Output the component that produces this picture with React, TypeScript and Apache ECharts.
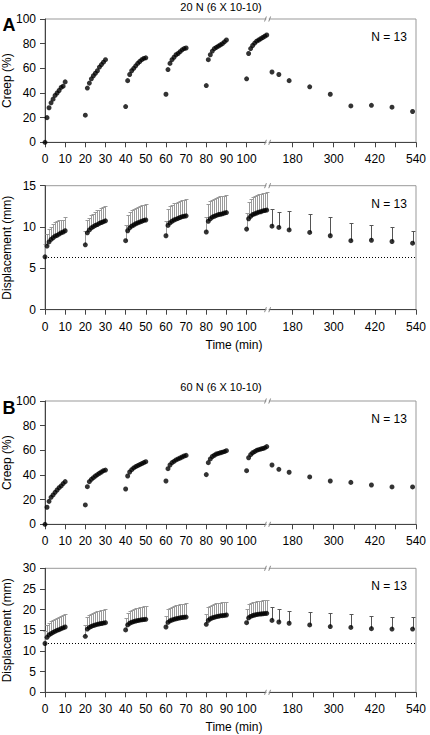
import React, { useEffect, useRef } from "react";
import * as echarts from "echarts";

// ---------- data ----------
// minutes at which creep / displacement were recorded during the six 10-min loading periods
const loadTimes = [
  0, 1, 2, 3, 4, 5, 6, 7, 8, 9, 10,
  20, 21, 22, 23, 24, 25, 26, 27, 28, 29, 30,
  40, 41, 42, 43, 44, 45, 46, 47, 48, 49, 50,
  60, 61, 62, 63, 64, 65, 66, 67, 68, 69, 70,
  80, 81, 82, 83, 84, 85, 86, 87, 88, 89, 90,
  100, 101, 102, 103, 104, 105, 106, 107, 108, 109, 110,
];
// recovery measurements after unloading
const recoveryTimes = [120, 140, 170, 230, 290, 350, 410, 470, 530];

// x-axis tick / label times
const xTickTimes = [0, 10, 20, 30, 40, 50, 60, 70, 80, 90, 100, 180, 240, 300, 360, 420, 480, 540];
const xLabelTimes = [0, 10, 20, 30, 40, 50, 60, 70, 80, 90, 100, 180, 300, 420, 540];

// Panel A: 20 N
const creepA = [
  0, 20, 28, 32, 35, 38, 40, 42, 44.5, 45.5, 49,
  22, 44, 48, 51.5, 54, 56, 58, 61, 63, 65, 67,
  29, 50, 55, 58, 60, 62, 64, 65.5, 67, 68, 68.5,
  39, 59, 64, 67, 69, 71, 72, 73.5, 75, 76, 76.5,
  46, 67, 71, 74, 76, 77, 78, 79, 80, 81.5, 83,
  51.5, 72, 76, 78.5, 80.5, 82, 83, 84, 85, 86, 87,
];
const creepARecovery = [57, 55, 50, 45, 39, 29.5, 30, 28.5, 25];

const dispA = [
  6.4, 7.7, 8.2, 8.5, 8.7, 8.9, 9.0, 9.15, 9.3, 9.4, 9.55,
  7.85, 9.3, 9.65, 9.9, 10.05, 10.2, 10.3, 10.45, 10.55, 10.65, 10.75,
  8.35, 9.55, 9.9, 10.1, 10.25, 10.4, 10.5, 10.6, 10.7, 10.8, 10.85,
  8.95, 10.2, 10.5, 10.7, 10.85, 10.95, 11.05, 11.15, 11.25, 11.3, 11.35,
  9.4, 10.7, 11.0, 11.2, 11.3, 11.4, 11.5, 11.55, 11.6, 11.7, 11.75,
  9.75, 11.0, 11.3, 11.5, 11.6, 11.7, 11.8, 11.85, 11.95, 12.0, 12.05,
];
const dispAUpper = [
  8.0, 9.2, 9.8, 10.0, 10.35, 10.55, 10.7, 10.85, 10.9, 10.9, 11.2,
  9.55, 10.85, 11.15, 11.4, 11.6, 11.8, 12.0, 12.1, 12.25, 12.4, 12.55,
  10.2, 11.45, 11.8, 12.05, 12.2, 12.35, 12.45, 12.55, 12.65, 12.7, 12.75,
  10.75, 12.2, 12.5, 12.7, 12.85, 12.95, 13.05, 13.15, 13.25, 13.3, 13.35,
  11.25, 12.8, 13.1, 13.3, 13.45, 13.55, 13.65, 13.7, 13.75, 13.8, 13.9,
  11.65, 13.05, 13.4, 13.6, 13.75, 13.85, 13.95, 14.05, 14.1, 14.15, 14.2,
];
const dispARecovery = [10.1, 9.95, 9.65, 9.35, 8.95, 8.35, 8.4, 8.25, 8.05];
const dispARecoveryUpper = [12.2, 11.8, 11.9, 11.55, 11.2, 10.5, 10.2, 9.95, 9.5];
const baselineA = 6.3;

// Panel B: 60 N
const creepB = [
  0, 13.8, 18.6, 21.9, 23.8, 25.9, 27.8, 29.7, 31.1, 33, 34.6,
  15.7, 30.5, 34.6, 36.5, 37.8, 39.2, 40.3, 41.4, 42.4, 43.5, 44,
  28.6, 39.2, 42.4, 44.3, 45.7, 46.8, 47.6, 48.4, 49.2, 50, 50.8,
  35.1, 45.1, 48.1, 50, 51.1, 52.2, 53, 53.8, 54.6, 55.4, 55.9,
  40.3, 50, 53, 55, 56, 57, 57.5, 58, 58.5, 59, 59.7,
  43.5, 54, 56.5, 58, 59, 60, 60.5, 61, 61.5, 62, 63,
];
const creepBRecovery = [48.1, 44.6, 42.2, 38.4, 35.1, 34, 31.9, 30.3, 30.3];

const dispB = [
  11.8, 13.3, 13.9, 14.2, 14.5, 14.75, 15.0, 15.15, 15.4, 15.6, 15.8,
  13.55, 15.3, 15.7, 15.95, 16.15, 16.3, 16.45, 16.55, 16.65, 16.75, 16.85,
  15.1, 16.3, 16.7, 16.95, 17.1, 17.25, 17.35, 17.45, 17.55, 17.6, 17.65,
  15.8, 16.9, 17.3, 17.5, 17.65, 17.8, 17.9, 18.0, 18.1, 18.15, 18.2,
  16.45, 17.4, 17.8, 18.0, 18.15, 18.3, 18.4, 18.5, 18.55, 18.6, 18.7,
  16.85, 18.0, 18.35, 18.55, 18.7, 18.8, 18.9, 18.95, 19.0, 19.05, 19.1,
];
const dispBUpper = [
  14.8, 16.2, 16.8, 17.2, 17.5, 17.8, 18.0, 18.3, 18.5, 18.7, 19.0,
  16.3, 18.3, 18.7, 19.0, 19.2, 19.4, 19.55, 19.7, 19.85, 19.95, 20.1,
  17.9, 19.3, 19.7, 20.0, 20.2, 20.35, 20.5, 20.6, 20.7, 20.8, 20.9,
  18.5, 20.2, 20.5, 20.75, 20.9, 21.05, 21.15, 21.25, 21.35, 21.45, 21.5,
  19.0, 20.6, 21.0, 21.2, 21.35, 21.5, 21.6, 21.7, 21.8, 21.85, 21.9,
  20.1, 21.3, 21.6, 21.8, 21.95, 22.05, 22.1, 22.2, 22.25, 22.3, 22.3,
];
const dispBRecovery = [17.4, 17.0, 16.7, 16.3, 15.9, 15.7, 15.4, 15.3, 15.3];
const dispBRecoveryUpper = [20.6, 20.1, 19.7, 19.35, 19.1, 18.9, 18.5, 18.3, 18.1];
const baselineB = 11.8;

const titles = ["20 N (6 X 10-10)", "60 N (6 X 10-10)"];
const panelLetters = ["A", "B"];
const nLabel = "N = 13";

// ---------- broken time axis ----------
const BREAK_TIME = 110;
const POST_REF_TIME = 180;
const POST_REF_POS = 122.8;
const POST_COMPRESS = 5.88;
const BREAK_POS = 110.4;

const toAxis = (t: number) => (t <= BREAK_TIME ? t : POST_REF_POS + (t - POST_REF_TIME) / POST_COMPRESS);
const fromAxis = (v: number) =>
  v <= BREAK_TIME + 0.5 ? Math.round(v) : Math.round(POST_REF_TIME + (v - POST_REF_POS) * POST_COMPRESS);
const X_MAX = toAxis(540);

const FONT = "'Liberation Sans', Arial, Helvetica, sans-serif";
const AXIS_COLOR = "#444";
const BORDER_COLOR = "#999";

const GRID_LEFT = 45;
const GRID_WIDTH = 371;
const grids = [
  { top: 19, height: 123.3 },
  { top: 185.7, height: 124 },
  { top: 401, height: 123.3 },
  { top: 568.3, height: 124 },
];

const pairs = (times: number[], vals: number[]) => times.map((t, i) => [toAxis(t), vals[i]]);
const triples = (times: number[], vals: number[], ups: number[]) =>
  times.map((t, i) => [toAxis(t), vals[i], ups[i]]);

function buildOption() {
  const panels = [
    { yMax: 100, yInt: 20, yName: "Creep (%)", load: creepA, rec: creepARecovery },
    { yMax: 15, yInt: 5, yName: "Displacement (mm)", load: dispA, rec: dispARecovery, up: dispAUpper, recUp: dispARecoveryUpper, base: baselineA },
    { yMax: 100, yInt: 20, yName: "Creep (%)", load: creepB, rec: creepBRecovery },
    { yMax: 30, yInt: 5, yName: "Displacement (mm)", load: dispB, rec: dispBRecovery, up: dispBUpper, recUp: dispBRecoveryUpper, base: baselineB },
  ];

  const xAxes = grids.map((_, i) => ({
    type: "value",
    gridIndex: i,
    min: 0,
    max: X_MAX,
    axisLine: { show: true, lineStyle: { color: AXIS_COLOR, width: 1 } },
    axisTick: {
      show: true,
      inside: false,
      length: 5,
      lineStyle: { color: AXIS_COLOR },
      customValues: xTickTimes.map(toAxis),
    },
    axisLabel: {
      show: true,
      margin: 11,
      color: "#000",
      fontFamily: FONT,
      fontSize: 12,
      customValues: xLabelTimes.map(toAxis),
      formatter: (v: number) => String(fromAxis(v)),
    },
    splitLine: { show: false },
  }));

  const yAxes = panels.map((p, i) => ({
    type: "value",
    gridIndex: i,
    min: 0,
    max: p.yMax,
    interval: p.yInt,
    name: p.yName,
    nameLocation: "middle",
    nameGap: 32,
    nameRotate: 90,
    nameMoveOverlap: false,
    nameTextStyle: { color: "#000", fontFamily: FONT, fontSize: 12 },
    axisLine: { show: true, lineStyle: { color: AXIS_COLOR, width: 1 } },
    axisTick: { show: true, inside: false, length: 5, lineStyle: { color: AXIS_COLOR } },
    axisLabel: { margin: 9, color: "#000", fontFamily: FONT, fontSize: 12 },
    splitLine: { show: false },
  }));

  const errorBar = (color: string) => (params: any, api: any) => {
    const x = api.value(0);
    const y = api.value(1);
    const top = api.value(2);
    const p0 = api.coord([x, y]);
    const p1 = api.coord([x, top]);
    const px = Math.round(p0[0]) + 0.5;
    const py = Math.round(p1[1]) + 0.5;
    return {
      type: "group",
      children: [
        { type: "line", shape: { x1: px, y1: p0[1], x2: px, y2: py }, style: { stroke: color, lineWidth: 1 } },
        { type: "line", shape: { x1: px - 2, y1: py, x2: px + 2, y2: py }, style: { stroke: color, lineWidth: 1 } },
      ],
    };
  };

  const series: any[] = [];
  panels.forEach((p, i) => {
    if (p.up) {
      series.push({
        type: "custom",
        xAxisIndex: i,
        yAxisIndex: i,
        renderItem: errorBar("#9a9a9a"),
        encode: { x: 0, y: [1, 2] },
        data: triples(loadTimes, p.load, p.up),
        z: 1,
        silent: true,
      });
      series.push({
        type: "custom",
        xAxisIndex: i,
        yAxisIndex: i,
        renderItem: errorBar("#555"),
        encode: { x: 0, y: [1, 2] },
        data: triples(recoveryTimes, p.rec, p.recUp),
        z: 1,
        silent: true,
      });
    }
    series.push({
      type: "scatter",
      xAxisIndex: i,
      yAxisIndex: i,
      symbol: "circle",
      symbolSize: 5,
      itemStyle: { color: "#000" },
      data: pairs(loadTimes, p.load),
      z: 3,
      silent: true,
      markLine: p.base !== undefined
        ? {
            silent: true,
            symbol: ["none", "none"],
            label: { show: false },
            lineStyle: { color: "#000", width: 1, type: [1, 2] },
            data: [{ yAxis: p.base }],
          }
        : undefined,
    });
    series.push({
      type: "scatter",
      xAxisIndex: i,
      yAxisIndex: i,
      symbol: "circle",
      symbolSize: 5,
      itemStyle: { color: "#000" },
      data: pairs(recoveryTimes, p.rec),
      z: 3,
      silent: true,
    });
  });

  return {
    animation: false,
    backgroundColor: "#fff",
    textStyle: { fontFamily: FONT },
    grid: grids.map((g) => ({
      left: GRID_LEFT,
      top: g.top,
      width: GRID_WIDTH,
      height: g.height,
      containLabel: false,
      outerBoundsMode: "none",
      show: true,
      borderColor: BORDER_COLOR,
      borderWidth: 1,
      backgroundColor: "transparent",
    })),
    xAxis: xAxes,
    yAxis: yAxes,
    series,
  };
}

function buildGraphics(chart: any) {
  const g: any[] = [];
  const text = (t: string, x: number, y: number, size: number, bold = false, align = "center") => ({
    type: "text",
    x,
    y,
    z: 10,
    style: {
      text: t,
      fill: "#000",
      font: `${bold ? "bold " : ""}${size}px ${FONT}`,
      align,
      verticalAlign: "middle",
    },
  });
  // titles & letters
  g.push(text(titles[0], 221, 6.5, 11));
  g.push(text(titles[1], 221, 387, 11));
  g.push(text(panelLetters[0], 9, 25, 18, true));
  g.push(text(panelLetters[1], 9, 408, 18, true));
  // N labels
  grids.forEach((gr) => g.push(text(nLabel, 389, gr.top + 18, 12)));
  // Time axis names
  [1, 3].forEach((i) => g.push(text("Time (min)", 234, grids[i].top + grids[i].height + 35, 12)));

  // axis break marks
  grids.forEach((gr, i) => {
    const bx = chart.convertToPixel({ xAxisIndex: i }, BREAK_POS);
    [gr.top, gr.top + gr.height].forEach((yy) => {
      g.push({
        type: "rect",
        z: 9,
        shape: { x: bx - 1.2, y: yy - 1.5, width: 2.4, height: 3 },
        style: { fill: "#fff" },
      });
      g.push({
        type: "line",
        z: 10,
        shape: { x1: bx - 3, y1: yy + 2.5, x2: bx - 1.2, y2: yy - 2.5 },
        style: { stroke: "#888", lineWidth: 1 },
      });
      g.push({
        type: "line",
        z: 10,
        shape: { x1: bx + 1.2, y1: yy + 2.5, x2: bx + 3, y2: yy - 2.5 },
        style: { stroke: "#888", lineWidth: 1 },
      });
    });
  });
  return g;
}

export default function App() {
  const ref = useRef<HTMLDivElement>(null);
  useEffect(() => {
    if (!ref.current) return;
    const chart = echarts.init(ref.current, undefined, { renderer: "svg" });
    chart.setOption(buildOption() as any);
    chart.setOption({ graphic: buildGraphics(chart) } as any);
    return () => chart.dispose();
  }, []);
  return (
    <div
      ref={ref}
      style={{ position: "fixed", left: 0, top: 0, width: 430, height: 735, background: "#fff" }}
    />
  );
}
